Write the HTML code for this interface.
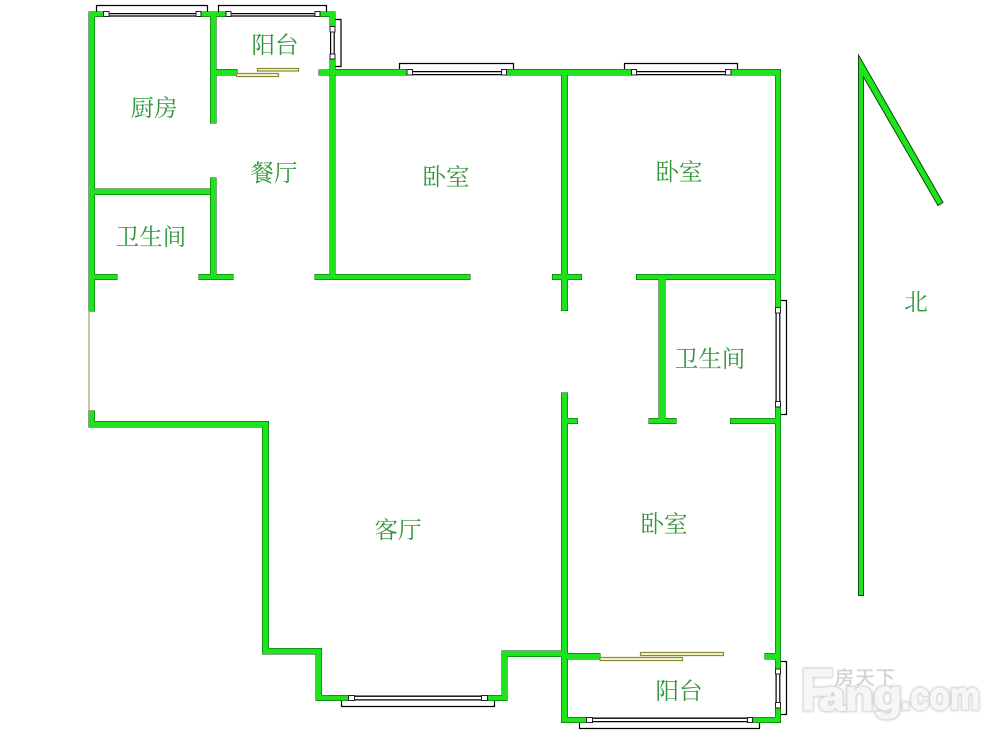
<!DOCTYPE html>
<html lang="zh">
<head>
<meta charset="utf-8">
<style>
html,body{margin:0;padding:0;background:#fff;width:997px;height:737px;overflow:hidden}
svg{display:block}
.t{font-family:"Liberation Serif","Noto Serif CJK SC",serif;font-size:23.5px;fill:#33963c;text-anchor:middle}
.g{fill:none;stroke:#000;stroke-width:1.2}
.s{fill:#fdfde8;stroke:#8a8a30;stroke-width:1.2}
.w{font-family:"Liberation Sans",sans-serif;font-weight:bold}
</style>
</head>
<body>
<svg width="997" height="737" viewBox="0 0 997 737" xmlns="http://www.w3.org/2000/svg">
<defs>
<filter id="sh" x="-10%" y="-10%" width="120%" height="120%"><feGaussianBlur stdDeviation="1"/></filter>
<path id="walls" d="M89 12h5.500v299h-5.500zM89 12h14v4.500h-14zM201 12h25v4.500h-25zM320 12h15v4.500h-15zM210.500 12h5.500v111h-5.500zM216 69.500h21v5.500h-21zM319 70h16v5h-16zM330 12h5v14h-5zM330 59h5v217h-5zM94 189h116v5.500h-116zM210.500 178h5.500v98h-5.500zM94 274.500h23v5h-23zM199 274.500h34v5h-34zM315 274.500h155v5h-155zM335 69.500h72v5.500h-72zM507 69.500h124v5.500h-124zM731 69.500h49.500v5.500h-49.500zM775.500 69.500h5v238h-5zM561.500 69.500h6v241h-6zM552.500 274.500h29v5h-29zM636.500 274.500h139v5h-139zM659 279h6v140h-6zM649 418.500h27v5h-27zM730.500 418.500h45.500v5h-45.500zM775.500 407h5v262h-5zM765 653.500h11v5.500h-11zM775.500 708h5v14.500h-5zM561.500 393h6v329h-6zM567 418.500h10.500v5h-10.500zM567 653.500h33v5.500h-33zM561.500 717.500h25v5h-25zM752.500 717.500h28v5h-28zM89 411h5.500v15h-5.500zM89 421.500h179.500v5.500h-179.500zM262.500 421.500h6v232h-6zM262.500 648.500h59v5.500h-59zM316 648.500h5.500v52h-5.500zM316 695.500h32.500v5h-32.500zM487.500 695.500h19v5h-19zM502 651h5v49.500h-5zM502 651h60v5.500h-60z"/>
<g id="wm" class="w">
<text x="801" y="710" font-size="58" textLength="32" lengthAdjust="spacingAndGlyphs">F</text>
<text x="819" y="710" font-size="42" textLength="83" lengthAdjust="spacingAndGlyphs">ang</text>
<text x="901" y="709" font-size="38" textLength="79" lengthAdjust="spacingAndGlyphs">.com</text>
</g>
</defs>
<rect width="997" height="737" fill="#fff"/>

<path class="g" d="M96.500 12.500v-7h111v7M218.500 12.500v-7h108v7M399.500 69.500v-6h114v6M624.500 69.500v-6h113v6M335 19.500h6v47h-6M780.500 300.500h6v114h-6M780.500 661.500h6v53h-6M579.500 722v6.500h180v-6.500M341.500 700v6.500h153v-6.500"/>

<path fill="#000" d="M103 13h98v1.200h-98zM103 15.400h98v1.200h-98zM226 13h94v1.200h-94zM226 15.400h94v1.200h-94zM407 71h100v1.200h-100zM407 74h100v1.200h-100zM631 71h100v1.200h-100zM631 74h100v1.200h-100zM330 26h1.200v33h-1.200zM333.600 26h1.200v33h-1.200zM775.500 307h1.200v100h-1.200zM779.200 307h1.200v100h-1.200zM775.500 669h1.200v39h-1.200zM779.200 669h1.200v39h-1.200zM586 717.500h167v1.400h-167zM586 721h167v1.200h-167zM348 695.500h140v1.400h-140zM348 699.300h140v1.200h-140z"/>

<use href="#walls" fill="#0b4d0b" stroke="#0b4d0b" stroke-width="1"/>
<use href="#walls" fill="#1ee41e"/>

<path fill="#fff" stroke="#222" stroke-width="1" d="M103.500 11.500h5.500v5h-5.500zM196 11.500h5v5h-5zM226 11.500h5v5h-5zM315 11.500h5v5h-5zM407 69.500h5.500v5.500h-5.500zM501.500 69.500h5v5.500h-5zM631.500 69.500h5v5.500h-5zM725.500 69.500h5.500v5.500h-5.500zM330 26.500h5v5.500h-5zM330 54h5v5h-5zM775.500 307.500h5v5.500h-5zM775.500 401.500h5v5.500h-5zM775.500 669h5v5h-5zM775.500 702.500h5v5.500h-5zM586.500 717.500h6v5h-6zM747.500 717.500h5v5h-5zM348.500 695.500h6v5h-6zM481.500 695.500h6v5h-6z"/>

<path class="s" d="M257.500 68.500h41v2.500h-41zM236.500 73.500h42v3h-42zM640.500 652.500h83v3h-83zM600 657.500h82.500v3h-82.500z"/>

<rect x="88.500" y="311" width="1" height="100" fill="#8f9440"/>

<polygon points="858.500,55 943,202.500 938,205.500 863.500,77 863.500,595.500 858.500,595.500" fill="#1ee41e" stroke="#0b4d0b" stroke-width="1"/>

<text class="t" x="154" y="116">厨房</text>
<text class="t" x="275" y="53">阳台</text>
<text class="t" x="274" y="181">餐厅</text>
<text class="t" x="446" y="185">卧室</text>
<text class="t" x="679" y="180">卧室</text>
<text class="t" x="151" y="245">卫生间</text>
<text class="t" x="710" y="367">卫生间</text>
<text class="t" x="398" y="538">客厅</text>
<text class="t" x="664" y="532">卧室</text>
<text class="t" x="679" y="699">阳台</text>
<text class="t" x="916" y="310">北</text>

<use href="#wm" fill="#d0d0d0" stroke="#d0d0d0" stroke-width="4" filter="url(#sh)"/>
<use href="#wm" fill="#f6f6f6" stroke="#f6f6f6" stroke-width="1.500"/>
<text x="835" y="684" font-size="19" fill="#cfcfcf" stroke="#d8d8d8" stroke-width="0.500" font-family="'Liberation Sans','Noto Sans CJK SC',sans-serif" textLength="60">房天下</text>
</svg>
</body>
</html>
